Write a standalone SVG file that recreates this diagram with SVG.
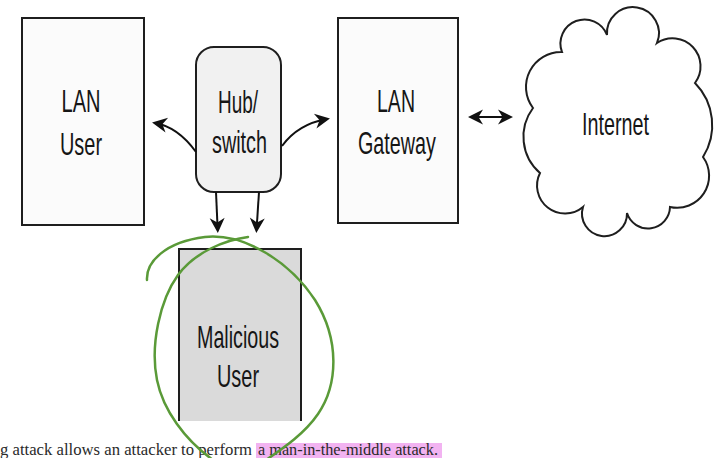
<svg xmlns="http://www.w3.org/2000/svg" width="719" height="458" viewBox="0 0 719 458">
  <style>
    .box { fill: #fbfbfb; stroke: #1e1e1e; stroke-width: 2; }
    .lbl { font-family: "Liberation Sans", Arial, sans-serif; font-size: 32px; fill: #161616; text-anchor: middle; }
    .conn { fill: none; stroke: #111; stroke-width: 2; }
    .body { font-family: "Liberation Serif", "Times New Roman", serif; font-size: 17px; fill: #2a2a2a; }
  </style>
  <defs>
    <marker id="ah" viewBox="-17 -9 18 18" refX="-3" refY="0" markerWidth="18" markerHeight="18" markerUnits="userSpaceOnUse" orient="auto-start-reverse">
      <path d="M0,0 L-15,-7.5 L-10.5,0 L-15,7.5 Z" fill="#111"/>
    </marker>
  </defs>
  <rect x="0" y="0" width="719" height="458" fill="#ffffff"/>

  <g id="lan-user">
    <rect class="box" x="22" y="18" width="122" height="207"/>
    <text class="lbl" x="81" y="112" textLength="39" lengthAdjust="spacingAndGlyphs">LAN</text>
    <text class="lbl" x="81" y="155" textLength="42" lengthAdjust="spacingAndGlyphs">User</text>
  </g>

  <g id="hub-switch">
    <rect class="box" x="196" y="47" width="85" height="145" rx="18" ry="18" style="fill:#f1f1f1"/>
    <text class="lbl" x="238" y="113" textLength="40" lengthAdjust="spacingAndGlyphs">Hub/</text>
    <text class="lbl" x="239.5" y="153" textLength="55" lengthAdjust="spacingAndGlyphs">switch</text>
  </g>

  <g id="lan-gateway">
    <rect class="box" x="338" y="18" width="120" height="205"/>
    <text class="lbl" x="396" y="112" textLength="38" lengthAdjust="spacingAndGlyphs">LAN</text>
    <text class="lbl" x="397" y="154" textLength="78" lengthAdjust="spacingAndGlyphs">Gateway</text>
  </g>

  <g id="internet">
    <path class="box" style="fill:#ffffff" d="M562,52 A24,24 0 0 1 607,35 A26,26 0 1 1 657,43 A28,28 0 0 1 695,83 A60,60 0 0 1 703,157 A32,32 0 0 1 670,207 A22,22 0 0 1 627,213 A22.5,22.5 0 1 1 583,207 A28,28 0 0 1 540,173 A48,48 0 0 1 533,108 A35,35 0 0 1 562,52 Z"/>
    <text class="lbl" x="615.5" y="135" textLength="67" lengthAdjust="spacingAndGlyphs">Internet</text>
  </g>

  <g id="malicious-user">
    <rect x="179" y="249" width="122" height="172" fill="#dadada"/>
    <path d="M179,421 V249 H301 V421" fill="none" stroke="#1e1e1e" stroke-width="2"/>
    <text class="lbl" x="238" y="348" textLength="82" lengthAdjust="spacingAndGlyphs">Malicious</text>
    <text class="lbl" x="238" y="387" textLength="42" lengthAdjust="spacingAndGlyphs">User</text>
  </g>

  <g id="connectors">
    <path class="conn" d="M196,152 Q178,127 155,123" marker-end="url(#ah)"/>
    <path class="conn" d="M282,146 Q298,124 327,119" marker-end="url(#ah)"/>
    <path class="conn" d="M216,192 L217.7,230" marker-end="url(#ah)"/>
    <path class="conn" d="M259,192 L256.5,230" marker-end="url(#ah)"/>
    <path class="conn" d="M471,117 L510,117" marker-start="url(#ah)" marker-end="url(#ah)"/>
  </g>

  <g id="page-text">
    <rect x="256" y="443" width="186" height="15" fill="#f0a6ee" opacity="0.85"/>
    <text class="body" x="0" y="455" textLength="252" lengthAdjust="spacingAndGlyphs">g attack allows an attacker to perform</text>
    <text class="body" x="258" y="455" textLength="180" lengthAdjust="spacingAndGlyphs">a man-in-the-middle attack.</text>
  </g>

  <g id="green-circle" fill="none" stroke="#5a9a38" stroke-width="2.5" stroke-linecap="round">
    <path d="M147,280 C146,262 165,242 205,237 C245,233 290,262 315,300 C340,340 338,385 318,414 C305,433 285,447 266,460"/>
    <path d="M248,237 C225,240 195,252 178,275 C160,300 150,345 157,380 C163,410 185,440 213,460"/>
  </g>
</svg>
